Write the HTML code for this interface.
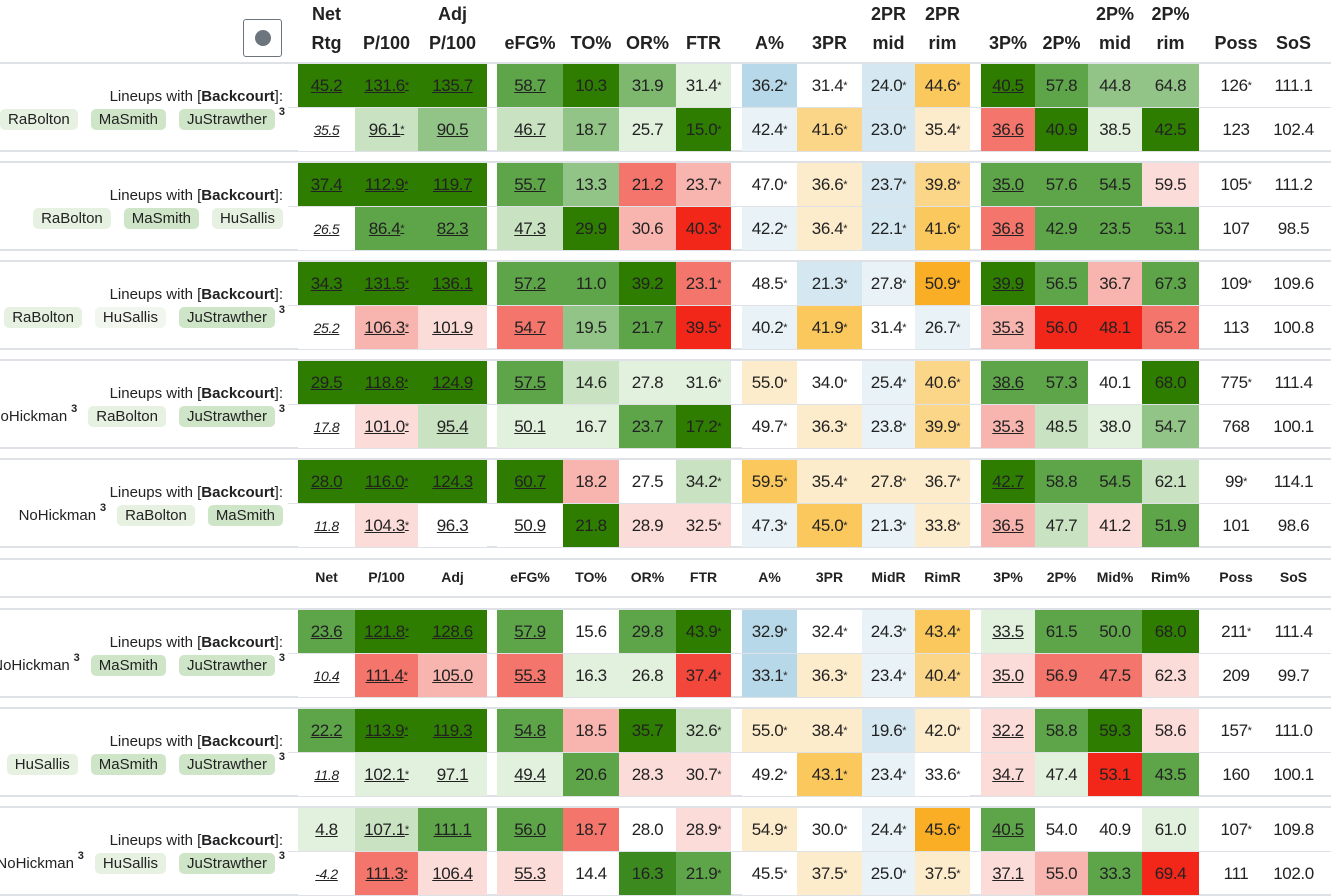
<!DOCTYPE html><html><head><meta charset="utf-8"><style>
body{margin:0;width:1331px;height:896px;background:#fff;position:relative;overflow:hidden;font-family:"Liberation Sans","DejaVu Sans",sans-serif;color:#222}
.h{position:absolute;font-weight:bold;font-size:18px;text-align:center;line-height:29px}
.h2{position:absolute;font-weight:bold;font-size:14px;text-align:center;top:569px}
.ln{position:absolute;height:2px;background:#dee2e6;left:0;width:1331px}
.ls{position:absolute;height:1px;background:#dee2e6;left:288px;width:1043px}
.r{position:absolute;left:298px;height:43px;display:flex}
.r>b{font-weight:normal;display:flex;align-items:center;justify-content:center;font-size:17px;height:43px;letter-spacing:-0.4px}
.r>b:nth-child(1){width:57px}.r>b:nth-child(2){width:63px}.r>b:nth-child(3){width:69px}
.r>b:nth-child(4){width:66px;margin-left:10px}.r>b:nth-child(5){width:56px}.r>b:nth-child(6){width:57px}.r>b:nth-child(7){width:55px}
.r>b:nth-child(8){width:55px;margin-left:11px}.r>b:nth-child(9){width:65px}.r>b:nth-child(10){width:53px}.r>b:nth-child(11){width:55px}
.r>b:nth-child(12){width:54px;margin-left:11px}.r>b:nth-child(13){width:53px}.r>b:nth-child(14){width:54px}.r>b:nth-child(15){width:57px}
.r>b:nth-child(16){width:54px;margin-left:10px}.r>b:nth-child(17){width:61px}
.r>b:nth-child(1),.r>b:nth-child(2),.r>b:nth-child(3),.r>b:nth-child(4),.r>b:nth-child(12){text-decoration:underline}
.r.b>b:nth-child(1){font-style:italic;font-size:14px}
.r sup{font-size:11px;vertical-align:7px}
.DG{background:#2e7d00}.G{background:#5ea54a}.MG{background:#7db86e}.LG{background:#93c487}.VLG{background:#c9e2c2}.PG{background:#e2f0de}
.R{background:#f2271a}.MR{background:#f4756b}.LR{background:#f8b4ae}.PR{background:#fcdcd9}
.B2{background:#b7d8e8}.B1{background:#d5e8f1}.PB{background:#e8f2f7}.W{background:#fff}
.O3{background:#f9ae26}.O2{background:#fbc85e}.O1{background:#fcd688}.PO{background:#fdeccb}
.lab{position:absolute;right:1048px;font-size:15px;white-space:nowrap}
.chips{position:absolute;right:1056px;display:flex;gap:13px;font-size:15px;white-space:nowrap}
.chips span{padding:2px 8px;border-radius:5px;position:relative}
.chips span.n{padding:2px 0}
.c1{background:#e6f1e2}.c2{background:#cfe5c8}
.chips sup{position:absolute;right:-10px;top:-3px;font-size:11px;font-weight:bold}
</style></head><body>
<div style="position:absolute;left:243px;top:19px;width:37px;height:36px;border:1px solid #6c757d;border-radius:3px"><div style="position:absolute;left:11px;top:10px;width:16px;height:16px;border-radius:50%;background:#6c757d"></div></div>
<div class="h" style="left:298px;width:57px;top:0">Net<br>Rtg</div>
<div class="h" style="left:355px;width:63px;top:29px">P/100</div>
<div class="h" style="left:418px;width:69px;top:0">Adj<br>P/100</div>
<div class="h" style="left:497px;width:66px;top:29px">eFG%</div>
<div class="h" style="left:563px;width:56px;top:29px">TO%</div>
<div class="h" style="left:619px;width:57px;top:29px">OR%</div>
<div class="h" style="left:676px;width:55px;top:29px">FTR</div>
<div class="h" style="left:742px;width:55px;top:29px">A%</div>
<div class="h" style="left:797px;width:65px;top:29px">3PR</div>
<div class="h" style="left:862px;width:53px;top:0">2PR<br>mid</div>
<div class="h" style="left:915px;width:55px;top:0">2PR<br>rim</div>
<div class="h" style="left:981px;width:54px;top:29px">3P%</div>
<div class="h" style="left:1035px;width:53px;top:29px">2P%</div>
<div class="h" style="left:1088px;width:54px;top:0">2P%<br>mid</div>
<div class="h" style="left:1142px;width:57px;top:0">2P%<br>rim</div>
<div class="h" style="left:1209px;width:54px;top:29px">Poss</div>
<div class="h" style="left:1263px;width:61px;top:29px">SoS</div>

<div class="h2" style="left:298px;width:57px">Net</div><div class="h2" style="left:355px;width:63px">P/100</div><div class="h2" style="left:418px;width:69px">Adj</div>
<div class="h2" style="left:497px;width:66px">eFG%</div><div class="h2" style="left:563px;width:56px">TO%</div><div class="h2" style="left:619px;width:57px">OR%</div><div class="h2" style="left:676px;width:55px">FTR</div>
<div class="h2" style="left:742px;width:55px">A%</div><div class="h2" style="left:797px;width:65px">3PR</div><div class="h2" style="left:862px;width:53px">MidR</div><div class="h2" style="left:915px;width:55px">RimR</div>
<div class="h2" style="left:981px;width:54px">3P%</div><div class="h2" style="left:1035px;width:53px">2P%</div><div class="h2" style="left:1088px;width:54px">Mid%</div><div class="h2" style="left:1142px;width:57px">Rim%</div>
<div class="h2" style="left:1209px;width:54px">Poss</div><div class="h2" style="left:1263px;width:61px">SoS</div>
<div class="ln" style="top:558px"></div><div class="ln" style="top:596px"></div>

<!-- G1 -->
<div class="ln" style="top:62px"></div><div class="ls" style="top:107px"></div><div class="ln" style="top:150px"></div>
<div class="lab" style="top:88px">Lineups with [<b>Backcourt</b>]:</div>
<div class="chips" style="top:109px"><span class="c1">RaBolton</span><span class="c2">MaSmith</span><span class="c2">JuStrawther<sup>3</sup></span></div>
<div class="r" style="top:64px"><b class="DG">45.2</b><b class="DG">131.6<sup>*</sup></b><b class="DG">135.7</b><b class="G">58.7</b><b class="DG">10.3</b><b class="MG">31.9</b><b class="PG">31.4<sup>*</sup></b><b class="B2">36.2<sup>*</sup></b><b class="W">31.4<sup>*</sup></b><b class="B1">24.0<sup>*</sup></b><b class="O2">44.6<sup>*</sup></b><b class="DG">40.5</b><b class="G">57.8</b><b class="LG">44.8</b><b class="LG">64.8</b><b>126<sup>*</sup></b><b>111.1</b></div>
<div class="r b" style="top:108px"><b class="W">35.5</b><b class="VLG">96.1<sup>*</sup></b><b class="LG">90.5</b><b class="VLG">46.7</b><b class="LG">18.7</b><b class="PG">25.7</b><b class="DG">15.0<sup>*</sup></b><b class="PB">42.4<sup>*</sup></b><b class="O1">41.6<sup>*</sup></b><b class="B1">23.0<sup>*</sup></b><b class="PO">35.4<sup>*</sup></b><b class="MR">36.6</b><b class="DG">40.9</b><b class="PG">38.5</b><b class="DG">42.5</b><b>123</b><b>102.4</b></div>

<!-- G2 -->
<div class="ln" style="top:161px"></div><div class="ls" style="top:206px"></div><div class="ln" style="top:249px"></div>
<div class="lab" style="top:187px">Lineups with [<b>Backcourt</b>]:</div>
<div class="chips" style="top:208px;right:1048px"><span class="c1">RaBolton</span><span class="c2">MaSmith</span><span class="c1">HuSallis</span></div>
<div class="r" style="top:163px"><b class="DG">37.4</b><b class="DG">112.9<sup>*</sup></b><b class="DG">119.7</b><b class="G">55.7</b><b class="LG">13.3</b><b class="MR">21.2</b><b class="LR">23.7<sup>*</sup></b><b class="W">47.0<sup>*</sup></b><b class="PO">36.6<sup>*</sup></b><b class="B1">23.7<sup>*</sup></b><b class="O1">39.8<sup>*</sup></b><b class="G">35.0</b><b class="G">57.6</b><b class="G">54.5</b><b class="PR">59.5</b><b>105<sup>*</sup></b><b>111.2</b></div>
<div class="r b" style="top:207px"><b class="W">26.5</b><b class="G">86.4<sup>*</sup></b><b class="G">82.3</b><b class="VLG">47.3</b><b class="DG">29.9</b><b class="LR">30.6</b><b class="R">40.3<sup>*</sup></b><b class="PB">42.2<sup>*</sup></b><b class="PO">36.4<sup>*</sup></b><b class="B1">22.1<sup>*</sup></b><b class="O2">41.6<sup>*</sup></b><b class="MR">36.8</b><b class="G">42.9</b><b class="G">23.5</b><b class="G">53.1</b><b>107</b><b>98.5</b></div>

<!-- G3 -->
<div class="ln" style="top:260px"></div><div class="ls" style="top:305px"></div><div class="ln" style="top:348px"></div>
<div class="lab" style="top:286px">Lineups with [<b>Backcourt</b>]:</div>
<div class="chips" style="top:307px"><span class="c1">RaBolton</span><span style="background:#f1f7ef">HuSallis</span><span class="c2">JuStrawther<sup>3</sup></span></div>
<div class="r" style="top:262px"><b class="DG">34.3</b><b class="DG">131.5<sup>*</sup></b><b class="DG">136.1</b><b class="G">57.2</b><b class="G">11.0</b><b class="DG">39.2</b><b class="MR">23.1<sup>*</sup></b><b class="W">48.5<sup>*</sup></b><b class="B1">21.3<sup>*</sup></b><b class="PB">27.8<sup>*</sup></b><b class="O3">50.9<sup>*</sup></b><b class="DG">39.9</b><b class="G">56.5</b><b class="LR">36.7</b><b class="G">67.3</b><b>109<sup>*</sup></b><b>109.6</b></div>
<div class="r b" style="top:306px"><b class="W">25.2</b><b class="LR">106.3<sup>*</sup></b><b class="PR">101.9</b><b class="MR">54.7</b><b class="LG">19.5</b><b class="G">21.7</b><b class="R">39.5<sup>*</sup></b><b class="PB">40.2<sup>*</sup></b><b class="O2">41.9<sup>*</sup></b><b class="W">31.4<sup>*</sup></b><b class="PB">26.7<sup>*</sup></b><b class="LR">35.3</b><b class="R">56.0</b><b class="R">48.1</b><b class="MR">65.2</b><b>113</b><b>100.8</b></div>

<!-- G4 -->
<div class="ln" style="top:359px"></div><div class="ls" style="top:404px"></div><div class="ln" style="top:447px"></div>
<div class="lab" style="top:385px">Lineups with [<b>Backcourt</b>]:</div>
<div class="chips" style="top:406px"><span class="n">NoHickman<sup>3</sup></span><span class="c1" style="margin-left:8px">RaBolton</span><span class="c2">JuStrawther<sup>3</sup></span></div>
<div class="r" style="top:361px"><b class="DG">29.5</b><b class="DG">118.8<sup>*</sup></b><b class="DG">124.9</b><b class="G">57.5</b><b class="VLG">14.6</b><b class="PG">27.8</b><b class="PG">31.6<sup>*</sup></b><b class="PO">55.0<sup>*</sup></b><b class="W">34.0<sup>*</sup></b><b class="PB">25.4<sup>*</sup></b><b class="O1">40.6<sup>*</sup></b><b class="G">38.6</b><b class="G">57.3</b><b class="W">40.1</b><b class="DG">68.0</b><b>775<sup>*</sup></b><b>111.4</b></div>
<div class="r b" style="top:405px"><b class="W">17.8</b><b class="PR">101.0<sup>*</sup></b><b class="VLG">95.4</b><b class="PG">50.1</b><b class="PG">16.7</b><b class="G">23.7</b><b class="DG">17.2<sup>*</sup></b><b class="W">49.7<sup>*</sup></b><b class="PO">36.3<sup>*</sup></b><b class="PB">23.8<sup>*</sup></b><b class="O1">39.9<sup>*</sup></b><b class="LR">35.3</b><b class="VLG">48.5</b><b class="PG">38.0</b><b class="LG">54.7</b><b>768</b><b>100.1</b></div>

<!-- G5 -->
<div class="ln" style="top:458px"></div><div class="ls" style="top:503px"></div><div class="ln" style="top:546px"></div>
<div class="lab" style="top:484px">Lineups with [<b>Backcourt</b>]:</div>
<div class="chips" style="top:505px;right:1048px"><span class="n">NoHickman<sup>3</sup></span><span class="c1" style="margin-left:8px">RaBolton</span><span class="c2">MaSmith</span></div>
<div class="r" style="top:460px"><b class="DG">28.0</b><b class="DG">116.0<sup>*</sup></b><b class="DG">124.3</b><b class="DG">60.7</b><b class="LR">18.2</b><b class="W">27.5</b><b class="VLG">34.2<sup>*</sup></b><b class="O2">59.5<sup>*</sup></b><b class="PO">35.4<sup>*</sup></b><b class="PO">27.8<sup>*</sup></b><b class="PO">36.7<sup>*</sup></b><b class="DG">42.7</b><b class="G">58.8</b><b class="G">54.5</b><b class="VLG">62.1</b><b>99<sup>*</sup></b><b>114.1</b></div>
<div class="r b" style="top:504px"><b class="W">11.8</b><b class="PR">104.3<sup>*</sup></b><b class="W">96.3</b><b class="W">50.9</b><b class="DG">21.8</b><b class="PR">28.9</b><b class="PR">32.5<sup>*</sup></b><b class="PB">47.3<sup>*</sup></b><b class="O2">45.0<sup>*</sup></b><b class="PB">21.3<sup>*</sup></b><b class="PO">33.8<sup>*</sup></b><b class="LR">36.5</b><b class="VLG">47.7</b><b class="PR">41.2</b><b class="G">51.9</b><b>101</b><b>98.6</b></div>

<!-- G6 -->
<div class="ln" style="top:608px"></div><div class="ls" style="top:653px"></div><div class="ln" style="top:696px"></div>
<div class="lab" style="top:634px">Lineups with [<b>Backcourt</b>]:</div>
<div class="chips" style="top:655px"><span class="n">NoHickman<sup>3</sup></span><span class="c2" style="margin-left:8px">MaSmith</span><span class="c2">JuStrawther<sup>3</sup></span></div>
<div class="r" style="top:610px"><b class="G">23.6</b><b class="DG">121.8<sup>*</sup></b><b class="DG">128.6</b><b class="G">57.9</b><b class="W">15.6</b><b class="G">29.8</b><b class="DG">43.9<sup>*</sup></b><b class="B2">32.9<sup>*</sup></b><b class="W">32.4<sup>*</sup></b><b class="PB">24.3<sup>*</sup></b><b class="O2">43.4<sup>*</sup></b><b class="PG">33.5</b><b class="G">61.5</b><b class="G">50.0</b><b class="DG">68.0</b><b>211<sup>*</sup></b><b>111.4</b></div>
<div class="r b" style="top:654px"><b class="W">10.4</b><b class="MR">111.4<sup>*</sup></b><b class="LR">105.0</b><b class="MR">55.3</b><b class="PG">16.3</b><b class="PG">26.8</b><b style="background:#f4473c">37.4<sup>*</sup></b><b class="B2">33.1<sup>*</sup></b><b class="PO">36.3<sup>*</sup></b><b class="PB">23.4<sup>*</sup></b><b class="O1">40.4<sup>*</sup></b><b class="PR">35.0</b><b class="MR">56.9</b><b class="MR">47.5</b><b class="PR">62.3</b><b>209</b><b>99.7</b></div>

<!-- G7 -->
<div class="ln" style="top:707px"></div><div class="ls" style="top:752px"></div><div class="ln" style="top:795px"></div>
<div class="lab" style="top:733px">Lineups with [<b>Backcourt</b>]:</div>
<div class="chips" style="top:754px"><span class="c1">HuSallis</span><span class="c2">MaSmith</span><span class="c2">JuStrawther<sup>3</sup></span></div>
<div class="r" style="top:709px"><b class="G">22.2</b><b class="DG">113.9<sup>*</sup></b><b class="DG">119.3</b><b class="G">54.8</b><b class="LR">18.5</b><b class="DG">35.7</b><b class="VLG">32.6<sup>*</sup></b><b class="PO">55.0<sup>*</sup></b><b class="PO">38.4<sup>*</sup></b><b class="B1">19.6<sup>*</sup></b><b class="PO">42.0<sup>*</sup></b><b class="PR">32.2</b><b class="G">58.8</b><b class="DG">59.3</b><b class="PR">58.6</b><b>157<sup>*</sup></b><b>111.0</b></div>
<div class="r b" style="top:753px"><b class="W">11.8</b><b class="PG">102.1<sup>*</sup></b><b class="PG">97.1</b><b class="PG">49.4</b><b class="G">20.6</b><b class="PR">28.3</b><b class="PR">30.7<sup>*</sup></b><b class="W">49.2<sup>*</sup></b><b class="O2">43.1<sup>*</sup></b><b class="PB">23.4<sup>*</sup></b><b class="W">33.6<sup>*</sup></b><b class="PR">34.7</b><b class="PG">47.4</b><b class="R">53.1</b><b class="G">43.5</b><b>160</b><b>100.1</b></div>

<!-- G8 -->
<div class="ln" style="top:806px"></div><div class="ls" style="top:851px"></div><div class="ln" style="top:894px"></div>
<div class="lab" style="top:832px">Lineups with [<b>Backcourt</b>]:</div>
<div class="chips" style="top:853px"><span class="n">NoHickman<sup>3</sup></span><span class="c1" style="margin-left:8px">HuSallis</span><span class="c2">JuStrawther<sup>3</sup></span></div>
<div class="r" style="top:808px"><b class="PG">4.8</b><b class="VLG">107.1<sup>*</sup></b><b class="G">111.1</b><b class="G">56.0</b><b class="MR">18.7</b><b class="W">28.0</b><b class="PR">28.9<sup>*</sup></b><b class="PO">54.9<sup>*</sup></b><b class="W">30.0<sup>*</sup></b><b class="PB">24.4<sup>*</sup></b><b class="O3">45.6<sup>*</sup></b><b class="G">40.5</b><b class="W">54.0</b><b class="W">40.9</b><b class="PG">61.0</b><b>107<sup>*</sup></b><b>109.8</b></div>
<div class="r b" style="top:852px"><b class="W">-4.2</b><b class="MR">111.3<sup>*</sup></b><b class="PR">106.4</b><b class="PR">55.3</b><b class="W">14.4</b><b class="G" style="background:#3c8a1f">16.3</b><b class="G">21.9<sup>*</sup></b><b class="W">45.5<sup>*</sup></b><b class="PO">37.5<sup>*</sup></b><b class="PB">25.0<sup>*</sup></b><b class="PO">37.5<sup>*</sup></b><b class="PR">37.1</b><b class="LR">55.0</b><b class="G">33.3</b><b class="R">69.4</b><b>111</b><b>102.0</b></div>
</body></html>
